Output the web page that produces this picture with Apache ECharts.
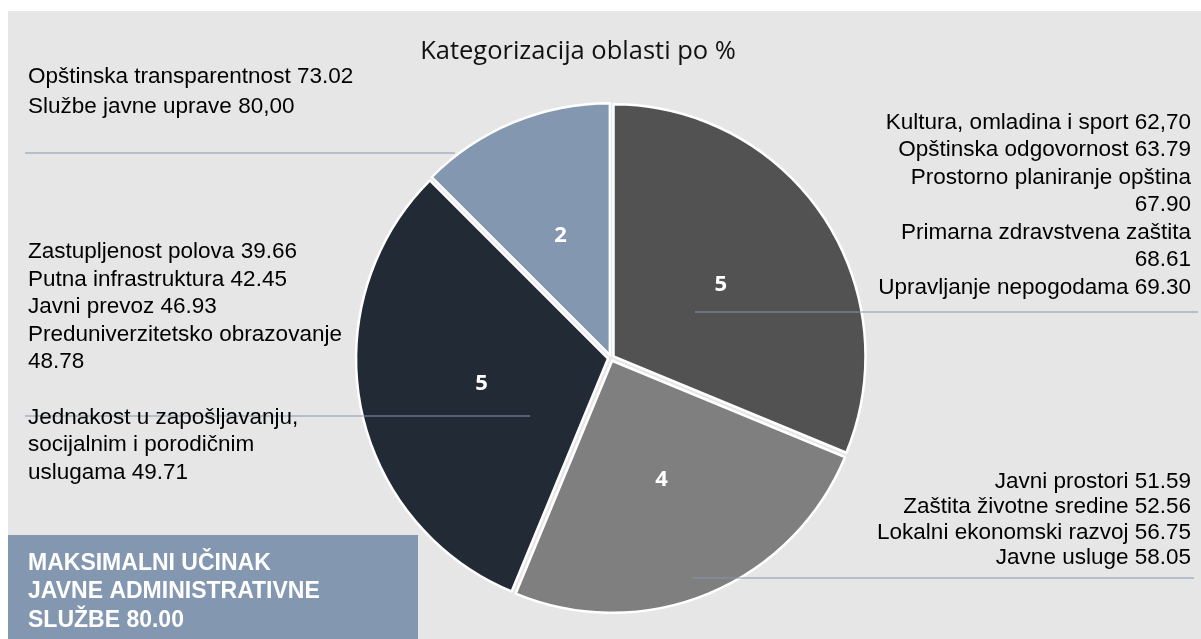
<!DOCTYPE html>
<html>
<head>
<meta charset="utf-8">
<title>Kategorizacija oblasti po %</title>
<script src="https://cdn.jsdelivr.net/npm/echarts@6.0.0/dist/echarts.min.js"></script>
<style>
  html, body { margin: 0; padding: 0; background: #fff; }
  #main { width: 1201px; height: 639px; }
</style>
</head>
<body>
<div id="main"></div>
<script>
// broj oblasti u svakoj kategoriji (isječci, u smjeru kazaljke od vrha)
const sliceCounts = [5, 4, 5, 2];

// oblasti i njihovi rezultati po kategoriji
const groupAreas = [
  ['Kultura, omladina i sport', 'Opštinska odgovornost', 'Prostorno planiranje opština', 'Primarna zdravstvena zaštita', 'Upravljanje nepogodama'],
  ['Javni prostori', 'Zaštita životne sredine', 'Lokalni ekonomski razvoj', 'Javne usluge'],
  ['Zastupljenost polova', 'Putna infrastruktura', 'Javni prevoz', 'Preduniverzitetsko obrazovanje', 'Jednakost u zapošljavanju,\nsocijalnim i porodičnim\nuslugama'],
  ['Opštinska transparentnost', 'Službe javne uprave']
];
const groupScores = [
  ['62,70', '63.79', '67.90', '68.61', '69.30'],
  ['51.59', '52.56', '56.75', '58.05'],
  ['39.66', '42.45', '46.93', '48.78', '49.71'],
  ['73.02', '80,00']
];
// nazivi kod kojih rezultat prelazi u novi red
const wrappedNames = ['Prostorno planiranje opština', 'Primarna zdravstvena zaštita', 'Preduniverzitetsko obrazovanje'];

const maxScore = '80.00';
const chartTitle = 'Kategorizacija oblasti po %';

const sliceColors = ['#525252', '#7f7f7f', '#222a35', '#8497b0'];
const lineColor = '#8497b0';

// gdje stoje tekstovi i linije (kao u Excelu)
const labelBoxes = [
  { x: 1191, y: 109, align: 'right', line: [695, 1198, 312] },
  { x: 1191, y: 469, align: 'right', line: [692, 1194, 578] },
  { x: 28, y: 238, align: 'left', line: [25, 530, 416] },
  { x: 28, y: 62, align: 'left', line: [25, 455, 153] }
];
const labelLineHeights = [27.5, 25.5, 27.6, 30];

let chart = echarts.init(document.getElementById('main'));

function groupText(idx) {
  let lines = [];
  groupAreas[idx].forEach((name, k) => {
    if (idx === 2 && k === 4) lines.push('');
    let sep = wrappedNames.indexOf(name) >= 0 ? '\n' : ' ';
    lines.push(name + sep + groupScores[idx][k]);
  });
  return lines.join('\n');
}

let option = {
  animation: false,
  color: sliceColors,
  graphic: [
    {
      type: 'rect',
      z: -10,
      shape: { x: 8, y: 11, width: 1193, height: 628 },
      style: { fill: '#e7e6e6' }
    },
    {
      type: 'text',
      z: 10,
      x: 578,
      y: 52,
      style: {
        text: chartTitle,
        align: 'center',
        verticalAlign: 'middle',
        fill: '#111',
        fontSize: 25.5,
        fontFamily: 'Open Sans'
      }
    },
    {
      type: 'rect',
      z: 10,
      shape: { x: 8, y: 535, width: 410, height: 110 },
      style: { fill: '#8497b0' }
    },
    {
      type: 'text',
      z: 11,
      x: 28,
      y: 549,
      style: {
        text: 'MAKSIMALNI UČINAK\nJAVNE ADMINISTRATIVNE\nSLUŽBE ' + maxScore,
        fill: '#fff',
        fontSize: 23,
        fontWeight: 'bold',
        lineHeight: 28.5,
        fontFamily: 'Liberation Sans'
      }
    }
  ],
  series: [
    {
      type: 'pie',
      z: 2,
      center: [611, 358],
      radius: 252,
      startAngle: 90,
      clockwise: true,
      selectedMode: 'multiple',
      selectedOffset: 3,
      avoidLabelOverlap: false,
      itemStyle: { borderColor: '#fff', borderWidth: 2.5 },
      select: { itemStyle: { borderColor: '#fff', borderWidth: 2.5 } },
      emphasis: { disabled: true },
      label: {
        show: true,
        position: 'inside',
        color: '#fff',
        fontSize: 22,
        fontWeight: 'bold',
        fontFamily: 'Noto Sans',
        formatter: (p) => p.value
      },
      labelLine: { show: false },
      data: sliceCounts.map((v) => ({ value: v, selected: true }))
    },
    {
      type: 'pie',
      z: 5,
      center: [611, 358],
      radius: 252,
      startAngle: 90,
      clockwise: true,
      silent: true,
      avoidLabelOverlap: false,
      minShowLabelAngle: 0,
      itemStyle: { color: 'transparent', borderWidth: 0 },
      emphasis: { disabled: true },
      label: {
        show: true,
        position: 'outside',
        color: '#000',
        fontSize: 22.5,
        fontFamily: 'Liberation Sans',
        formatter: (p) => groupText(p.dataIndex)
      },
      labelLine: {
        show: true,
        lineStyle: { color: lineColor, width: 1 }
      },
      labelLayout: (params) => {
        let b = labelBoxes[params.dataIndex];
        return {
          x: b.x,
          y: b.y,
          align: b.align,
          verticalAlign: 'top',
          labelLinePoints: [[b.line[0], b.line[2]], [b.line[1], b.line[2]], [b.line[1], b.line[2]]]
        };
      },
      data: sliceCounts.map((v, i) => ({
        value: v,
        label: { align: labelBoxes[i].align, lineHeight: labelLineHeights[i] }
      }))
    }
  ]
};

chart.setOption(option);
</script>
</body>
</html>
